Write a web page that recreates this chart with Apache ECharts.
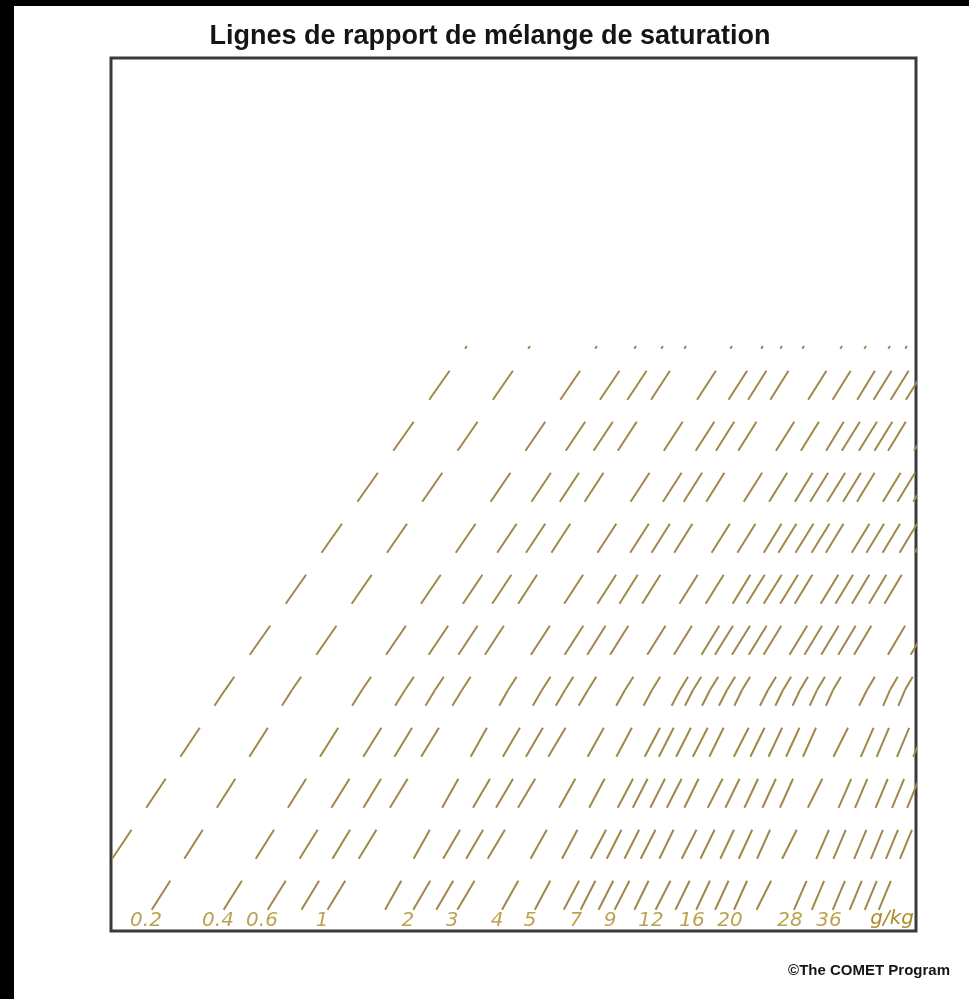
<!DOCTYPE html>
<html>
<head>
<meta charset="utf-8">
<title>Lignes de rapport de mélange de saturation</title>
<script src="https://cdn.jsdelivr.net/npm/echarts@6/dist/echarts.min.js"></script>
<style>
  html, body { margin: 0; padding: 0; background: #fff; }
  #page { position: relative; width: 969px; height: 999px; background: #fff; overflow: hidden; }
  #chart { position: absolute; left: 0; top: 0; width: 969px; height: 999px; }
  .edge-left { position: absolute; left: 0; top: 0; width: 14px; height: 999px; background: #000; }
  .edge-top { position: absolute; left: 0; top: 0; width: 969px; height: 6px; background: #000; }
</style>
</head>
<body>
<div id="page">
  <div id="chart"></div>
  <div class="edge-left"></div>
  <div class="edge-top"></div>
</div>
<script>
// Saturation mixing ratio lines (g/kg), in diagram units (0-100 on both axes).
const ratios = ['0.1', '0.2', '0.4', '0.6', '0.8', '1', '1.5', '2', '2.5', '3', '4', '5', '6', '7', '8',
                '9', '10', '12', '14', '16', '18', '20', '24', '28', '32', '36', '40', '44', '48'];

// Horizontal position of each line at the base, middle and top levels.
const baseX = [-4.84, 4.35, 13.29, 18.76, 22.98, 26.21, 33.42, 36.89, 39.75, 42.36, 47.95, 52.05, 55.65, 57.76, 60.00,
               61.99, 64.47, 67.08, 69.57, 72.17, 74.53, 76.89, 79.63, 84.35, 86.58, 89.19, 91.30, 93.17, 94.91];
const midX  = [14.16, 22.48, 31.18, 36.52, 40.25, 43.60, 49.32, 53.54, 56.40, 59.25, 63.85, 67.20, 70.68, 72.30, 74.41,
               76.52, 78.39, 81.61, 83.48, 85.59, 87.70, 89.69, 93.91, 96.77, 98.63, 101.12, 103.10, 104.97, 106.71];
const topX  = [44.22, 52.05, 60.37, 65.22, 68.57, 71.43, 77.14, 80.99, 83.35, 86.09, 90.81, 93.79, 96.77, 98.88, 101.0,
               102.86, 104.47, 107.70, 109.44, 111.30, 113.42, 115.16, 119.25, 121.86, 123.48, 125.71, 127.70, 129.57, 131.31];

// Lines that carry a value label along the base.
const labelledRatios = ['0.2', '0.4', '0.6', '1', '2', '3', '4', '5', '7', '9', '12', '16', '20', '28', '36'];

// Vertical levels (diagram units).
const BASE_LEVEL = 1.4;
const MID_LEVEL = 27.6;
const TOP_LEVEL = 67.0;

const LINE_COLOR = '#a08848';
const LABEL_COLOR = '#ad8a24';

// Dash rhythm, measured vertically in pixels so the dashes line up in rows.
const DASH_V = 29;
const GAP_V = 22;
const LEAD_GAP_V = 9;
const PERIOD_V = DASH_V + GAP_V;

const chart = echarts.init(document.getElementById('chart'), null, { renderer: 'canvas' });

const option = {
  animation: false,
  backgroundColor: '#fff',
  grid: {
    left: 111, top: 58, right: 53, bottom: 68,
    show: true, borderColor: '#3a3a3a', borderWidth: 3, backgroundColor: '#fff'
  },
  xAxis: { type: 'value', min: 0, max: 100, show: false },
  yAxis: { type: 'value', min: 0, max: 100, show: false },
  graphic: [
    {
      type: 'text', x: 490, y: 37, silent: true,
      style: {
        text: 'Lignes de rapport de mélange de saturation',
        font: 'bold 27px "Liberation Sans", Arial, sans-serif',
        fill: '#151515', textAlign: 'center', verticalAlign: 'middle'
      }
    },
    {
      type: 'text', x: 950, y: 971, silent: true,
      style: {
        text: '©The COMET Program',
        font: 'bold 15px "Liberation Sans", Arial, sans-serif',
        fill: '#151515', textAlign: 'right', verticalAlign: 'middle'
      }
    },
    {
      type: 'text', x: 914, y: 919, silent: true, z: 10,
      style: {
        text: 'g/kg',
        font: 'italic 20px "DejaVu Sans", sans-serif',
        fill: LABEL_COLOR, textAlign: 'right', verticalAlign: 'middle'
      }
    }
  ],
  series: []
};
chart.setOption(option);

// One dashed segment; the dash pattern is stretched by the segment's slant
// so that every line repeats with the same vertical rhythm.
function segment(name, p0, p1, phaseV) {
  const a = chart.convertToPixel({ gridIndex: 0 }, p0);
  const b = chart.convertToPixel({ gridIndex: 0 }, p1);
  const dy = Math.abs(b[1] - a[1]);
  const k = Math.hypot(b[0] - a[0], b[1] - a[1]) / dy;
  return {
    type: 'line', name: name, data: [p0, p1],
    symbol: 'none', clip: true, silent: true, z: 2,
    lineStyle: {
      color: LINE_COLOR, width: 2, cap: 'butt',
      type: [DASH_V * k, GAP_V * k],
      dashOffset: phaseV * k
    }
  };
}

const series = [];
const startPhase = PERIOD_V - LEAD_GAP_V;
const basePx = chart.convertToPixel({ gridIndex: 0 }, [0, BASE_LEVEL])[1];
const midPx = chart.convertToPixel({ gridIndex: 0 }, [0, MID_LEVEL])[1];
const midPhase = (startPhase + (basePx - midPx)) % PERIOD_V;

ratios.forEach(function (r, i) {
  series.push(segment(r, [baseX[i], BASE_LEVEL], [midX[i], MID_LEVEL], startPhase));
  series.push(segment(r, [midX[i], MID_LEVEL], [topX[i], TOP_LEVEL], midPhase));
});

series.push({
  type: 'scatter', name: 'labels', silent: true, z: 5,
  symbolSize: 1,
  itemStyle: { color: 'rgba(0,0,0,0)' },
  data: labelledRatios.map(function (r) {
    const i = ratios.indexOf(r);
    return { name: r, value: [baseX[i], BASE_LEVEL] };
  }),
  label: {
    show: true, position: 'inside', formatter: '{b}', offset: [0, 2],
    color: LABEL_COLOR, fontFamily: '"DejaVu Sans", sans-serif',
    fontStyle: 'italic', fontSize: 20
  }
});

chart.setOption({ series: series });
</script>
</body>
</html>
